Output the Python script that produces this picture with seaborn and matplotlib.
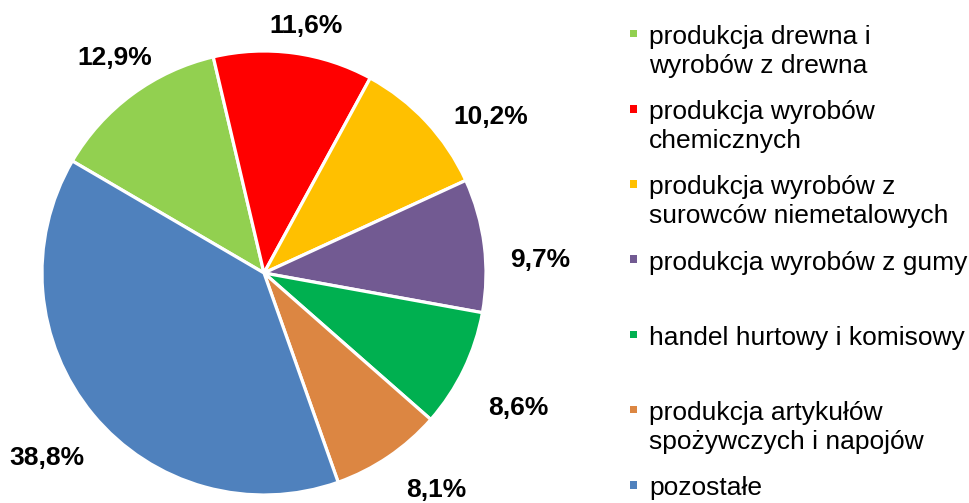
import numpy as np
import matplotlib
matplotlib.use("Agg")
import matplotlib.pyplot as plt
import seaborn as sns

sns.set_theme(style="white")
plt.rcParams['font.family'] = ['Liberation Sans', 'DejaVu Sans']

categories = [
    "produkcja drewna i\nwyrobów z drewna",
    "produkcja wyrobów\nchemicznych",
    "produkcja wyrobów z\nsurowców niemetalowych",
    "produkcja wyrobów z gumy",
    "handel hurtowy i komisowy",
    "produkcja artykułów\nspożywczych i napojów",
    "pozostałe",
]
values = [12.9, 11.6, 10.2, 9.7, 8.6, 8.1, 38.8]
value_labels = ["12,9%", "11,6%", "10,2%", "9,7%", "8,6%", "8,1%", "38,8%"]
colors = ["#92D050", "#FF0000", "#FFC000", "#725A92", "#00B050", "#DC8642", "#4F81BD"]

# label placement (layout only): radial distance factor and angular nudge (deg)
label_dist = [1.18, 1.13, 1.24, 1.245, 1.295, 1.248, 1.285]
label_nudge = [-1.6, -1.9, -8.5, -4.5, -2.2, 4.3, 0.8]

W, H = 970, 503
fig = plt.figure(figsize=(W / 100, H / 100), dpi=100)
cx, cy, R = 264, 273, 222
ax = fig.add_axes([0, 0, 600 / W, 1])

wedges, _ = ax.pie(values, colors=colors, startangle=149.7, counterclock=False,
                   radius=1.0, center=(0, 0),
                   wedgeprops=dict(edgecolor="white", linewidth=2.3))
ax.set_aspect('auto')
ax.set_xlim(-cx / R, (600 - cx) / R)
ax.set_ylim(-(H - cy) / R, cy / R)
ax.axis('off')

for w, lab, d, nd in zip(wedges, value_labels, label_dist, label_nudge):
    mid = np.deg2rad((w.theta1 + w.theta2) / 2 + nd)
    ax.text(d * np.cos(mid), d * np.sin(mid), lab, ha='center', va='center',
            fontsize=19, fontweight='bold', color='black')

# legend (Excel-style equal slots)
x_text = 649 / W
for i, (cat, col) in enumerate(zip(categories, colors)):
    base = 44 + i * 75.2
    for j, line in enumerate(cat.split("\n")):
        fig.text(x_text, 1 - (base + j * 28.5) / H, line, ha='left', va='baseline',
                 fontsize=19, color='black')
    fig.patches.append(plt.Rectangle(((633.5 - 3.8) / W, 1 - (base - 10.5 + 3.8) / H),
                                     7.6 / W, 7.6 / H, transform=fig.transFigure,
                                     facecolor=col, edgecolor='none'))

fig.savefig("out.png", dpi=100)
